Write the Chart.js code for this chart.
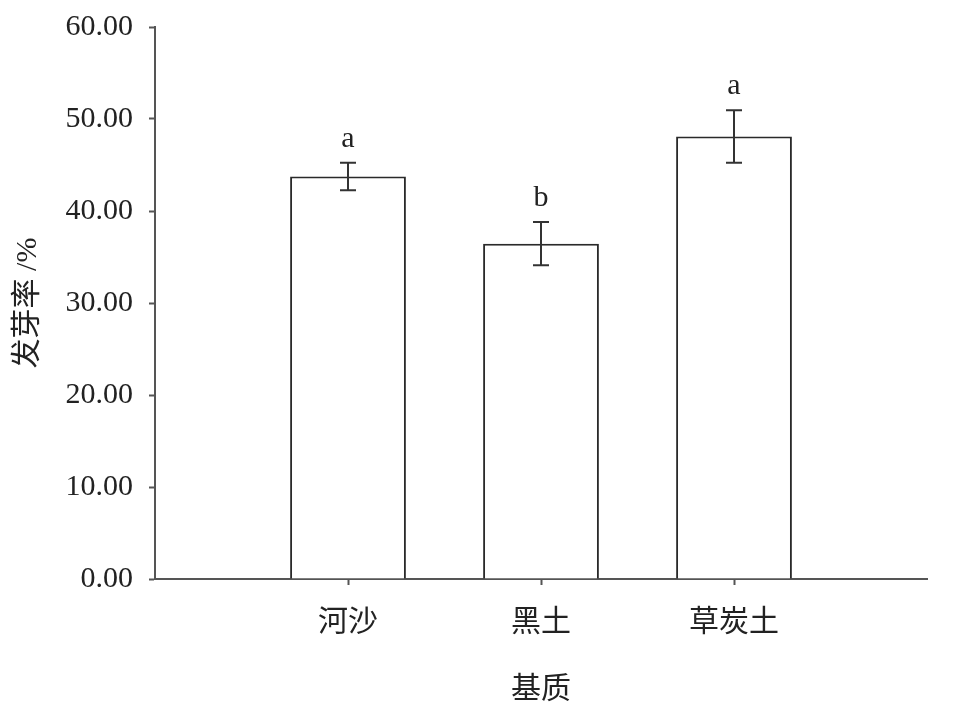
<!DOCTYPE html>
<html>
<head>
<meta charset="utf-8">
<script src="https://cdn.jsdelivr.net/npm/chart.js@4/dist/chart.umd.min.js"></script>
<style>
  html, body { margin: 0; padding: 0; background: #fff; }
  #wrap { width: 963px; height: 711px; }
</style>
</head>
<body>
<div id="wrap"><canvas id="c" width="963" height="711"></canvas></div>
<script>
// 发芽率 by substrate, blank slots at both ends so the axis runs 0..4
const categories = ['', '河沙', '黑土', '草炭土', ''];
const rates = [null, 43.75, 36.45, 48.1, null];
const errs = [null, 1.5, 2.35, 2.85, null];
const letters = [null, 'a', 'b', 'a', null];
const yTicks = [0, 10, 20, 30, 40, 50, 60];

const FONT = '"Liberation Serif", "Noto Sans CJK SC", serif';
const INK = '#222';
const SIZE = 30;

const errorBars = {
  id: 'errorBars',
  afterDatasetsDraw(chart) {
    const ctx = chart.ctx;
    const x = chart.scales.x, y = chart.scales.y;
    ctx.save();
    ctx.strokeStyle = '#333';
    ctx.lineWidth = 2;
    rates.forEach((v, i) => {
      if (v == null) return;
      const px = x.getPixelForValue(i);
      const top = y.getPixelForValue(v + errs[i]);
      const bot = y.getPixelForValue(v - errs[i]);
      ctx.beginPath();
      ctx.moveTo(px, top); ctx.lineTo(px, bot);
      ctx.moveTo(px - 8, top); ctx.lineTo(px + 8, top);
      ctx.moveTo(px - 8, bot); ctx.lineTo(px + 8, bot);
      ctx.stroke();
      ctx.fillStyle = INK;
      ctx.font = SIZE + 'px ' + FONT;
      ctx.textAlign = 'center';
      ctx.textBaseline = 'alphabetic';
      ctx.fillText(letters[i], px, top - 16);
    });
    ctx.restore();
  }
};

new Chart(document.getElementById('c'), {
  type: 'bar',
  data: {
    labels: categories,
    datasets: [{
      data: rates,
      backgroundColor: '#fff',
      borderColor: '#2a2a2a',
      borderWidth: 2,
      borderSkipped: 'bottom',
      categoryPercentage: 1,
      barPercentage: 0.6,
    }],
  },
  options: {
    responsive: false,
    animation: false,
    layout: { padding: { top: 27, right: 36, left: 0, bottom: 0 } },
    plugins: { legend: { display: false }, tooltip: { enabled: false } },
    scales: {
      x: {
        offset: false,
        border: { display: true, color: '#555', width: 2 },
        grid: {
          offset: false,
          drawOnChartArea: false,
          tickLength: 6,
          tickWidth: 2,
          tickColor: (c) => (categories[c.index] ? '#555' : 'rgba(0,0,0,0)'),
        },
        ticks: { color: INK, font: { family: FONT, size: SIZE }, padding: 20, maxRotation: 0, autoSkip: false },
        title: { display: true, text: '基质', color: INK, font: { family: FONT, size: SIZE }, padding: { top: 26, bottom: 3 } },
        afterFit: (s) => { s.height = 132; s.paddingLeft = 0; s.paddingRight = 0; },
      },
      y: {
        min: 0,
        max: 60,
        afterBuildTicks: (s) => { s.ticks = yTicks.map(v => ({ value: v })); },
        border: { display: true, color: '#555', width: 2 },
        grid: { drawOnChartArea: false, tickLength: 6, tickWidth: 2, tickColor: '#555' },
        ticks: {
          color: INK,
          font: { family: FONT, size: SIZE },
          padding: 16,
          callback: (v) => Number(v).toFixed(2),
        },
        title: { display: true, text: '发芽率 /%', color: INK, font: { family: FONT, size: SIZE }, padding: { top: 10, bottom: 4 } },
        afterFit: (s) => { s.width = 155; s.paddingTop = 0; s.paddingBottom = 0; },
      },
    },
  },
  plugins: [errorBars],
});
</script>
</body>
</html>
